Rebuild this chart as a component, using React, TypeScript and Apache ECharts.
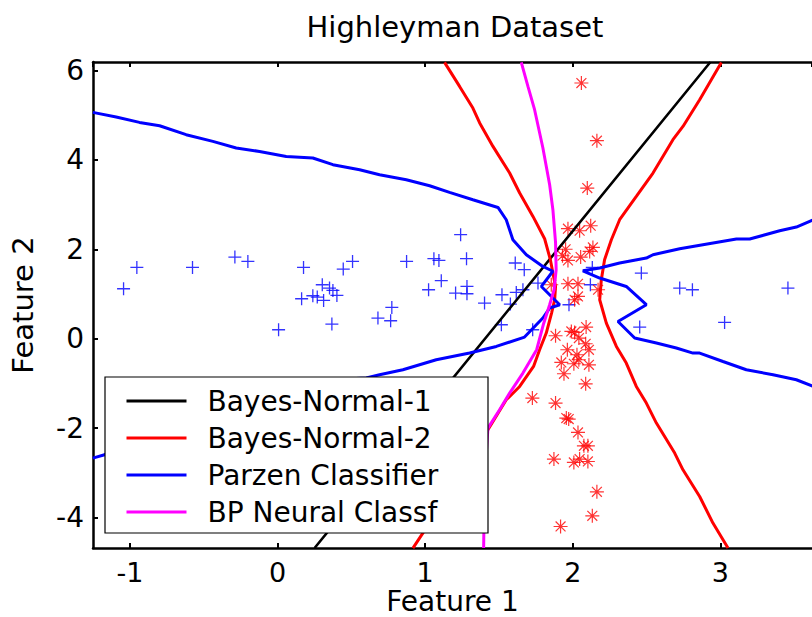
import React, { useEffect, useRef } from "react";
import * as echarts from "echarts";

const FONT = "DejaVu Sans";

const titleText = "Highleyman Dataset";
const xAxisName = "Feature 1";
const yAxisName = "Feature 2";
const legendNames = ["Bayes-Normal-1", "Bayes-Normal-2", "Parzen Classifier", "BP Neural Classf"];

// class 1 samples (blue +)
const class1Points: number[][] = [
  [-1.043, 1.119], [-0.953, 1.595], [-0.576, 1.595], [-0.289, 1.828], [-0.201, 1.729],
  [0.176, 1.595], [0.445, 1.559], [0.508, 1.729], [0.007, 0.201], [0.163, 0.895],
  [0.239, 0.962], [0.269, 0.933], [0.303, 1.208], [0.312, 0.857], [0.352, 1.134],
  [0.375, 1.081], [0.402, 0.969], [0.368, 0.329], [0.68, 0.463], [0.766, 0.403],
  [0.774, 0.7], [0.874, 1.729], [1.023, 1.096], [1.059, 1.79], [1.093, 1.752],
  [1.109, 1.298], [1.24, 2.327], [1.206, 1.022], [1.28, 1.79], [1.283, 1.17],
  [1.283, 1.007], [1.402, 0.799], [1.52, 0.984], [1.577, 0.776], [1.61, 1.694],
  [1.617, 1.036], [1.671, 1.544], [1.662, 1.096], [1.516, 0.313], [1.764, 1.246],
  [1.728, 0.201], [1.974, 0.761], [2.132, 1.595], [2.119, 1.208], [2.464, 1.47],
  [2.453, 0.262], [2.724, 1.134], [2.81, 1.096], [3.028, 0.365], [3.457, 1.134],
];

// class 2 samples (red *)
const class2Points: number[][] = [
  [2.058, 5.72], [2.163, 4.43], [2.098, 3.371], [1.967, 2.461], [2.046, 2.416],
  [2.121, 2.528], [1.951, 2.002], [1.967, 1.752], [1.93, 1.857], [2.053, 1.828],
  [2.114, 1.953], [2.136, 2.043], [1.854, 1.208], [1.967, 1.23], [2.035, 1.23],
  [2.171, 1.096], [2.035, 0.946], [2.012, 0.872], [2.09, 0.262], [1.883, 0.067],
  [1.99, 0.163], [2.012, 0.141], [2.041, 0.016], [2.087, -0.112], [2.109, -0.246],
  [1.963, -0.246], [2.028, -0.358], [1.922, -0.53], [2.007, -0.559], [2.041, -0.47],
  [2.109, -0.582], [1.94, -0.783], [2.087, -1.007], [1.726, -1.327], [1.883, -1.438],
  [1.956, -1.774], [1.972, -1.796], [2.035, -2.096], [2.075, -2.394], [2.102, -2.394],
  [1.872, -2.691], [2.007, -2.767], [2.046, -2.691], [2.102, -2.745], [2.163, -3.423],
  [2.132, -3.96], [1.917, -4.199],
];

const bayes1Line: number[][] = [
  [0.251, -4.68], [1.59, 0.75], [2.932, 6.19],
];

const bayes2Left: number[][] = [
  [1.131, 6.181], [1.233, 5.644], [1.323, 5.161], [1.369, 4.826], [1.459, 4.302],
  [1.572, 3.707], [1.64, 3.26], [1.73, 2.736], [1.809, 2.237], [1.848, 1.767],
  [1.865, 1.47], [1.883, 1.17], [1.877, 0.872], [1.856, 0.575], [1.82, 0.128],
  [1.775, -0.246], [1.734, -0.62], [1.64, -1.067], [1.549, -1.365], [1.425, -2.036],
  [1.199, -3.2], [0.984, -4.347], [0.917, -4.682],
];

const bayes2Right: number[][] = [
  [3.006, 6.181], [2.859, 5.347], [2.746, 4.749], [2.678, 4.452], [2.543, 3.707],
  [2.43, 3.183], [2.317, 2.662], [2.261, 2.215], [2.215, 1.767], [2.193, 1.32],
  [2.182, 0.872], [2.227, 0.351], [2.295, -0.172], [2.362, -0.544], [2.43, -1.067],
  [2.498, -1.438], [2.566, -1.886], [2.69, -2.557], [2.746, -2.931], [2.859, -3.528],
  [2.949, -4.123], [3.051, -4.682],
];

const parzenMain: number[][] = [
  [-1.251, 5.063], [-1.093, 4.96], [-0.935, 4.839], [-0.799, 4.765], [-0.619, 4.564],
  [-0.438, 4.414], [-0.28, 4.266], [-0.122, 4.19], [0.059, 4.078], [0.239, 4.043],
  [0.375, 3.893], [0.556, 3.781], [0.691, 3.669], [0.872, 3.557], [1.03, 3.423],
  [1.165, 3.273], [1.323, 3.11], [1.493, 2.937], [1.549, 2.662], [1.594, 2.215],
  [1.685, 1.879], [1.797, 1.617], [1.865, 1.51], [1.787, 1.17], [1.911, 0.761],
  [1.843, 0.687], [1.797, 0.463], [1.673, 0.038], [1.482, -0.172], [1.301, -0.32],
  [1.075, -0.47], [0.849, -0.694], [0.691, -0.805], [0.601, -0.879], [0.149, -0.95],
  [-0.664, -1.588], [-1.172, -2.595], [-1.251, -2.669],
];

const parzenRight: number[][] = [
  [3.65, 2.69], [3.514, 2.499], [3.401, 2.416], [3.198, 2.23], [3.108, 2.23],
  [2.881, 2.103], [2.724, 2.013], [2.543, 1.879], [2.498, 1.805], [2.317, 1.694],
  [2.182, 1.582], [2.068, 1.521], [2.182, 1.358], [2.362, 1.17], [2.498, 0.761],
  [2.306, 0.387], [2.419, 0.016], [2.566, -0.096], [2.701, -0.208], [2.814, -0.32],
  [2.859, -0.32], [3.017, -0.508], [3.175, -0.694], [3.356, -0.805], [3.514, -0.917],
  [3.65, -1.09],
];

const bpNeuralLine: number[][] = [
  [1.651, 6.181], [1.696, 5.644], [1.741, 5.123], [1.797, 4.273], [1.843, 3.445],
  [1.865, 2.886], [1.883, 2.148], [1.887, 1.544], [1.873, 1.096], [1.843, 0.761],
  [1.802, 0.336], [1.755, -0.246], [1.662, -0.767], [1.572, -1.215], [1.504, -1.588],
  [1.425, -1.998], [1.402, -3.154], [1.396, -4.682],
];

const PLUS = "path://M0,6H12M6,0V12";
const STAR = "path://M0,6H12M6,0V12M1.76,1.76L10.24,10.24M10.24,1.76L1.76,10.24";

const isInt = (v: number) => Math.abs(v - Math.round(v)) < 1e-6;

export default function App() {
  const ref = useRef<HTMLDivElement>(null);
  useEffect(() => {
    document.body.style.margin = "0";
    if (!ref.current) return;
    const chart = echarts.init(ref.current, undefined, { renderer: "svg" });
    const lineSeries = (name: string, data: number[][], color: string, width: number) => ({
      type: "line",
      name,
      data,
      showSymbol: false,
      symbol: "none",
      lineStyle: { color, width },
      itemStyle: { color },
      clip: true,
      z: 3,
    });
    const axisCommon = {
      type: "value",
      axisLine: { show: true, onZero: false, lineStyle: { color: "#000", width: 2.5 } },
      axisTick: { show: true, inside: true, length: 5, lineStyle: { color: "#000", width: 2 } },
      splitLine: { show: false },
    };
    chart.setOption({
      animation: false,
      backgroundColor: "#fff",
      grid: { left: 93, top: 62, right: 0, bottom: 69, containLabel: false, outerBoundsMode: "none" },
      xAxis: [
        {
          ...axisCommon,
          min: -1.25,
          max: 3.62,
          position: "bottom",
          name: xAxisName,
          nameLocation: "middle",
          nameGap: 42,
          nameMoveOverlap: false,
          nameTextStyle: { fontSize: 28, fontFamily: FONT, color: "#000", lineHeight: 22 },
          axisLabel: {
            margin: 11,
            fontSize: 27,
            lineHeight: 27,
            fontFamily: FONT,
            color: "#000",
            showMinLabel: false,
            showMaxLabel: false,
            formatter: (v: number) => (isInt(v) ? String(Math.round(v)) : ""),
          },
        },
        {
          ...axisCommon,
          min: -1.25,
          max: 3.62,
          position: "top",
          axisLabel: { show: false },
        },
      ],
      yAxis: [
        {
          ...axisCommon,
          min: -4.68,
          max: 6.19,
          position: "left",
          name: yAxisName,
          nameLocation: "middle",
          nameGap: 56,
          nameTextStyle: { fontSize: 29, fontFamily: FONT, color: "#000" },
          axisLabel: {
            margin: 9,
            fontSize: 28,
            fontFamily: FONT,
            color: "#000",
            showMinLabel: false,
            showMaxLabel: false,
            formatter: (v: number) => (isInt(v) ? String(Math.round(v)) : ""),
          },
        },
      ],
      legend: {
        orient: "vertical",
        left: 105,
        top: 377,
        padding: [9, 20, 6, 20],
        itemWidth: 60,
        itemHeight: 14,
        itemGap: 7,
        z: 20,
        data: legendNames,
        itemStyle: { opacity: 0 },
        lineStyle: { width: 3 },
        textStyle: { fontSize: 28, fontFamily: FONT, color: "#000", lineHeight: 30, padding: [0, 0, 0, 16] },
        selectedMode: false,
      },
      graphic: [
        {
          type: "rect",
          z: 10,
          shape: { x: 105, y: 377, width: 383, height: 156 },
          style: { fill: "#fff", stroke: "#000", lineWidth: 1.2 },
        },
        {
          type: "text",
          z: 10,
          x: 455,
          y: 27,
          style: {
            text: titleText,
            fill: "#000",
            font: `29px "${FONT}"`,
            textAlign: "center",
            textVerticalAlign: "middle",
          },
        },
      ],
      series: [
        {
          type: "scatter",
          name: "class1",
          data: class1Points,
          symbol: PLUS,
          symbolSize: 13,
          itemStyle: { color: "transparent", borderColor: "#0000ff", borderWidth: 1.3 },
          z: 2,
        },
        {
          type: "scatter",
          name: "class2",
          data: class2Points,
          symbol: STAR,
          symbolSize: 14,
          itemStyle: { color: "transparent", borderColor: "#ff0000", borderWidth: 1.2 },
          z: 2,
        },
        lineSeries(legendNames[0], bayes1Line, "#000000", 2.6),
        lineSeries(legendNames[1], bayes2Left, "#ff0000", 3),
        lineSeries(legendNames[1], bayes2Right, "#ff0000", 3),
        lineSeries(legendNames[2], parzenMain, "#0000ff", 3),
        lineSeries(legendNames[2], parzenRight, "#0000ff", 3),
        lineSeries(legendNames[3], bpNeuralLine, "#ff00ff", 3),
      ],
    });
    return () => chart.dispose();
  }, []);
  return <div ref={ref} style={{ width: 812, height: 617 }} />;
}
